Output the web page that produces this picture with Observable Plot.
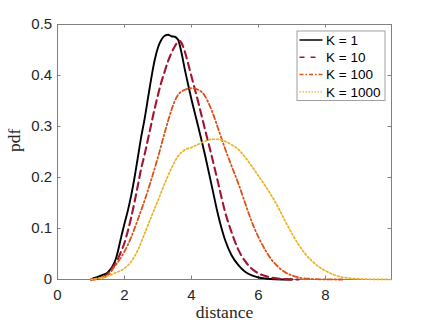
<!DOCTYPE html>
<html>
<head>
<meta charset="utf-8">
<script src="https://cdn.jsdelivr.net/npm/d3@7"></script>
<script src="https://cdn.jsdelivr.net/npm/@observablehq/plot@0.6"></script>
<style>
  html, body { margin: 0; padding: 0; background: #fff; }
</style>
</head>
<body>
<div id="chart"></div>
<script>
// ---- data ----
const seriesNames = ["K = 1", "K = 10", "K = 100", "K = 1000"];
const seriesColors = ["#000000", "#A2142F", "#D95319", "#EDB120"];

const k1X = [1.0, 1.1, 1.2, 1.35, 1.5, 1.75, 1.9, 2.0, 2.1, 2.2, 2.3, 2.4, 2.5, 2.6, 2.7, 2.8, 2.9, 3.0, 3.1, 3.2, 3.3, 3.4, 3.5, 3.6, 3.7, 3.8, 3.9, 4.0, 4.2, 4.4, 4.6, 4.8, 5.0, 5.2, 5.4, 5.6, 5.8, 6.0, 6.2, 6.5, 7.0];
const k1Y = [0, 0.003, 0.005, 0.009, 0.014, 0.042, 0.083, 0.11, 0.135, 0.165, 0.2, 0.24, 0.28, 0.315, 0.355, 0.395, 0.43, 0.455, 0.47, 0.478, 0.48, 0.477, 0.476, 0.47, 0.445, 0.412, 0.382, 0.353, 0.30, 0.245, 0.185, 0.125, 0.078, 0.047, 0.028, 0.015, 0.008, 0.004, 0.002, 0.0005, 0];

const k10X = [1.0, 1.3, 1.5, 1.6, 1.8, 1.9, 2.0, 2.1, 2.2, 2.3, 2.4, 2.5, 2.6, 2.7, 2.8, 2.9, 3.0, 3.1, 3.2, 3.3, 3.4, 3.5, 3.6, 3.65, 3.7, 3.8, 3.9, 4.0, 4.2, 4.4, 4.6, 4.8, 5.0, 5.2, 5.4, 5.6, 5.8, 6.0, 6.3, 6.7, 7.2];
const k10Y = [0, 0.003, 0.012, 0.02, 0.04, 0.055, 0.072, 0.095, 0.122, 0.152, 0.185, 0.218, 0.245, 0.275, 0.305, 0.335, 0.362, 0.387, 0.408, 0.428, 0.444, 0.457, 0.466, 0.468, 0.464, 0.447, 0.423, 0.398, 0.348, 0.295, 0.243, 0.188, 0.133, 0.092, 0.058, 0.036, 0.021, 0.012, 0.005, 0.001, 0];

const k100X = [1.0, 1.3, 1.5, 1.7, 1.8, 2.0, 2.2, 2.4, 2.6, 2.8, 3.0, 3.2, 3.4, 3.5, 3.6, 3.8, 4.0, 4.2, 4.4, 4.6, 4.8, 5.0, 5.2, 5.4, 5.6, 5.8, 6.0, 6.2, 6.4, 6.6, 6.8, 7.0, 7.2, 7.5, 8.0, 8.5];
const k100Y = [0, 0.003, 0.008, 0.025, 0.034, 0.055, 0.083, 0.118, 0.155, 0.196, 0.24, 0.288, 0.332, 0.35, 0.362, 0.372, 0.375, 0.372, 0.36, 0.332, 0.295, 0.257, 0.222, 0.188, 0.15, 0.113, 0.083, 0.058, 0.038, 0.024, 0.014, 0.008, 0.004, 0.0015, 0.0002, 0];

const k1000X = [1.0, 1.4, 1.7, 2.0, 2.2, 2.4, 2.6, 2.8, 3.0, 3.2, 3.4, 3.6, 3.8, 4.0, 4.2, 4.4, 4.6, 4.8, 5.0, 5.2, 5.4, 5.6, 5.8, 6.0, 6.2, 6.4, 6.6, 6.8, 7.0, 7.2, 7.4, 7.6, 7.8, 8.0, 8.3, 8.8, 9.3, 9.97];
const k1000Y = [0, 0.005, 0.012, 0.022, 0.035, 0.058, 0.09, 0.123, 0.155, 0.188, 0.218, 0.242, 0.254, 0.259, 0.265, 0.271, 0.275, 0.275, 0.271, 0.264, 0.255, 0.24, 0.222, 0.203, 0.184, 0.163, 0.14, 0.114, 0.09, 0.068, 0.05, 0.036, 0.025, 0.017, 0.008, 0.002, 0.0005, 0];

const xTicks = [0, 2, 4, 6, 8];
const yTicks = [0, 0.1, 0.2, 0.3, 0.4, 0.5];
const xLabel = "distance";
const yLabel = "pdf";

// ---- styles ----
const styles = [
  {width: 1.9, legendWidth: 1.5, dash: null, legendDash: null},
  {width: 2.1, legendWidth: 1.6, dash: "7.5,4.5", legendDash: "5,6,5,20"},
  {width: 1.8, legendWidth: 1.5, dash: "5,2.5,1.5,2.5", legendDash: "4,2,1.5,2"},
  {width: 1.7, legendWidth: 1.4, dash: "1.8,2.2", legendDash: "1.5,1.5"}
];

const xs = [k1X, k10X, k100X, k1000X];
const ys = [k1Y, k10Y, k100Y, k1000Y];
const rows = [];
seriesNames.forEach((name, s) => {
  xs[s].forEach((x, i) => rows.push({series: name, s, x, y: ys[s][i]}));
});

const axisColor = "#808080";
const textColor = "#262626";
const sansFont = "'Liberation Sans', Arial, Helvetica, sans-serif";
const serifFont = "'Liberation Serif', 'Times New Roman', serif";
const tickLen = 3.5;

const W = 432, H = 324, mL = 57, mR = 41, mT = 24, mB = 45;
const frameW = W - mL - mR, frameH = H - mT - mB;
const legW = 88, legH = 69.5, legInset = 6.5;

function legendMark(index, scales, values, dims, context) {
  const svgNS = "http://www.w3.org/2000/svg";
  const doc = context.document;
  const g = doc.createElementNS(svgNS, "g");
  g.setAttribute("text-anchor", "start");
  const right = dims.width - dims.marginRight - legInset;
  const top = dims.marginTop + legInset;
  const left = right - legW;
  seriesNames.forEach((name, i) => {
    const yy = top + 9.5 + i * 17.3;
    const line = doc.createElementNS(svgNS, "line");
    line.setAttribute("x1", left + 3); line.setAttribute("x2", left + 26);
    line.setAttribute("y1", yy); line.setAttribute("y2", yy);
    line.setAttribute("stroke", seriesColors[i]);
    line.setAttribute("stroke-width", styles[i].legendWidth);
    if (styles[i].legendDash) line.setAttribute("stroke-dasharray", styles[i].legendDash);
    g.appendChild(line);
    const t = doc.createElementNS(svgNS, "text");
    t.setAttribute("x", left + 29.5); t.setAttribute("y", yy);
    t.setAttribute("dy", "0.36em");
    t.setAttribute("text-anchor", "start");
    t.setAttribute("font-family", sansFont);
    t.setAttribute("font-size", 13.5);
    t.setAttribute("fill", "#000");
    t.textContent = name;
    g.appendChild(t);
  });
  return g;
}

const plot = Plot.plot({
  width: W,
  height: H,
  marginLeft: mL,
  marginRight: mR,
  marginTop: mT,
  marginBottom: mB,
  style: {background: "#fff", fontFamily: sansFont, color: textColor},
  x: {domain: [0, 9.97]},
  y: {domain: [0, 0.5]},
  marks: [
    Plot.frame({stroke: axisColor, strokeWidth: 1}),
    // inward ticks (bottom, top, left, right)
    Plot.tickX(xTicks, {x: d => d, stroke: axisColor, insetTop: frameH - tickLen}),
    Plot.tickX(xTicks, {x: d => d, stroke: axisColor, insetBottom: frameH - tickLen}),
    Plot.tickY(yTicks, {y: d => d, stroke: axisColor, insetRight: frameW - tickLen}),
    Plot.tickY(yTicks, {y: d => d, stroke: axisColor, insetLeft: frameW - tickLen}),
    Plot.axisX(xTicks, {tickSize: 0, tickPadding: 9.4, fontSize: 15, fill: textColor, label: null}),
    Plot.axisY(yTicks, {tickSize: 0, tickPadding: 5.3, fontSize: 15, fill: textColor, label: null, tickFormat: d => d === 0 ? "0" : d3.format(".1f")(d)}),
    ...seriesNames.map((name, s) => Plot.line(rows.filter(r => r.s === s), {
      x: "x", y: "y",
      stroke: seriesColors[s],
      strokeWidth: styles[s].width,
      strokeDasharray: styles[s].dash,
      curve: "monotone-x"
    })),
    Plot.text([xLabel], {text: d => d, frameAnchor: "bottom", dy: 38.5, lineAnchor: "bottom", fontFamily: serifFont, fontSize: 17.5, fill: textColor}),
    Plot.text([yLabel], {text: d => d, frameAnchor: "left", dx: -37.5, rotate: -90, lineAnchor: "bottom", fontFamily: serifFont, fontSize: 17.5, fill: textColor}),
    // legend box
    Plot.frame({fill: "#fff", stroke: "#a0a0a0", strokeWidth: 1,
      insetLeft: frameW - legInset - legW, insetRight: legInset,
      insetTop: legInset, insetBottom: frameH - legInset - legH}),
    legendMark
  ]
});

document.getElementById("chart").appendChild(plot);
</script>
</body>
</html>
